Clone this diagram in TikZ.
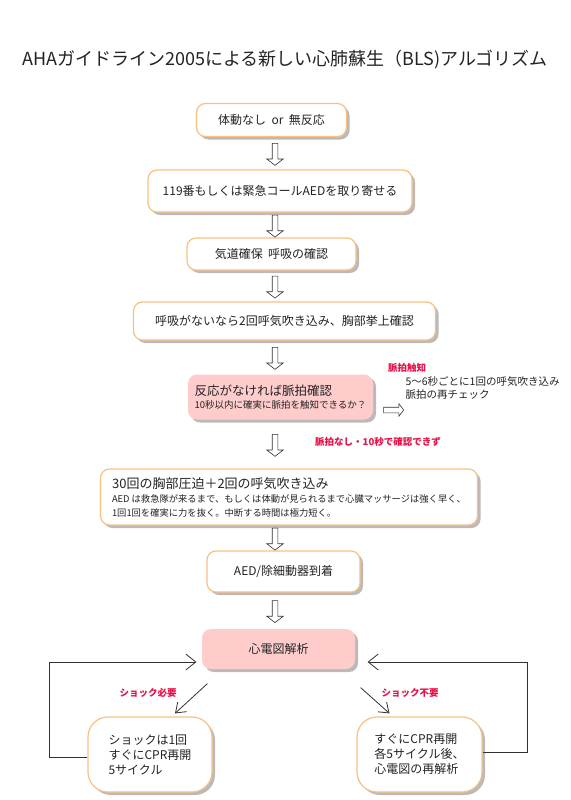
\documentclass[tikz,border=0pt]{standalone}
\usepackage{fontspec}
\setmainfont{Noto Sans CJK JP}
\usetikzlibrary{arrows.meta,calc,shapes.arrows,shadows}
\definecolor{bls}{RGB}{250,192,128}
\definecolor{blspink}{RGB}{255,204,204}
\definecolor{blsred}{RGB}{232,16,72}
\definecolor{blsline}{RGB}{50,50,50}
\definecolor{blstext}{RGB}{35,35,35}
\tikzset{box/.style={draw=bls,line width=1.2pt,fill=white,rounded corners=9pt,text=blstext,
    align=left,inner sep=3pt,font=\fontsize{12}{15}\selectfont,
    drop shadow={shadow xshift=3pt,shadow yshift=-3pt,opacity=0.45,fill=black!60}},
  pinkbox/.style={box,draw=none,fill=blspink},
  hollow/.style={single arrow,draw=blsline,fill=white,line width=0.6pt,inner xsep=0pt,inner ysep=2.5pt,
    minimum height=22pt,minimum width=16pt,single arrow head extend=5.5pt,single arrow tip angle=105},
  back/.style={-{Straight Barb[length=10pt,width=16pt]},line width=0.8pt,blsline},
  labeltext/.style={font=\bfseries\fontsize{9.5}{12}\selectfont,text=blsred},
  note/.style={font=\fontsize{10.5}{13.5}\selectfont,text=blstext,align=left}}

\begin{document}
\begin{tikzpicture}[x=1pt,y=-1pt]
\useasboundingbox (0,0) rectangle (570,800);
\node[font=\fontsize{18}{20}\selectfont,text=blstext] (title) at (285,60) {AHAガイドライン2005による新しい心肺蘇生（BLS)アルゴリズム};
% main flow
\node[box,minimum width=150,minimum height=33] (b1) at (271.5,120) {体動なし\ \ or\ \ 無反応};
\node[box,minimum width=264,minimum height=42] (b2) at (280,191) {119番もしくは緊急コールAEDを取り寄せる};
\node[box,minimum width=169,minimum height=32] (b3) at (271.5,254) {気道確保\ \ 呼吸の確認};
\node[box,minimum width=302,minimum height=38] (b4) at (284.5,321) {呼吸がないなら2回呼気吹き込み、胸部挙上確認};
\node[pinkbox,minimum width=185,minimum height=45] (b5) at (280.5,397)
  {{\fontsize{12.5}{15}\selectfont 反応がなければ脈拍確認}\\[-2pt]{\fontsize{9.5}{12}\selectfont 10秒以内に確実に脈拍を触知できるか？}};
\node[box,minimum width=377,minimum height=56] (b6) at (289,497)
  {{\fontsize{13}{15}\selectfont 30回の胸部圧迫＋2回の呼気吹き込み}\\[-1pt]
   {\fontsize{9.3}{12}\selectfont AED は救急隊が来るまで、もしくは体動が見られるまで心臓マッサージは強く早く、}\\[-1pt]
   {\fontsize{9.3}{12}\selectfont 1回1回を確実に力を抜く。中断する時間は極力短く。}};
\node[box,minimum width=153,minimum height=41] (b7) at (283.5,571.5) {AED/除細動器到着};
\node[pinkbox,minimum width=153,minimum height=40] (ecg) at (278.5,649) {心電図解析};
\node[box,rounded corners=20pt,minimum width=124,minimum height=75] (sl) at (150,754.5)
  {ショックは1回\\すぐにCPR再開\\5サイクル};
\node[box,rounded corners=20pt,minimum width=125,minimum height=75] (sr) at (419.5,754.5)
  {すぐにCPR再開\\各5サイクル後、\\心電図の再解析};
% hollow arrows
\foreach \a/\b in {b1/b2,b2/b3,b3/b4,b4/b5,b5/b6,b6/b7,b7/ecg}
  \path let \p1=($(\a.south)!0.5!(\b.north)$) in node[hollow,rotate=-90] (d\a) at (275pt,\y1) {};
% pulse branch
\path let \p1=(b5.east) in node[hollow,minimum height=20pt,minimum width=12pt,inner ysep=2.5pt,single arrow head extend=3.5pt] (ra) at ($(\x1,\y1)+(19pt,-13pt)$) {};
\node[labeltext] (pt) at (407,368) {脈拍触知};
\node[note,anchor=west] (pc) at (402,388) {5～6秒ごとに1回の呼気吹き込み\\脈拍の再チェック};
\node[labeltext] (np) at (378,442) {脈拍なし・10秒で確認できず};
% shock branches
\coordinate (lfrom) at ($(ecg.south west)+(6,14)$);
\coordinate (lto) at ($(sl.north)+(25,-3)$);
\coordinate (rfrom) at ($(ecg.south east)+(5,18)$);
\coordinate (rto) at ($(sr.north)+(-30,-3)$);
\draw[back,-{Straight Barb[length=9pt,width=13pt]}] (lfrom) -- (lto);
\draw[back,-{Straight Barb[length=9pt,width=13pt]}] (rfrom) -- (rto);
\node[labeltext] (sy) at (148,693) {ショック必要};
\node[labeltext] (sn) at (410,693) {ショック不要};
% loops back to analysis
\coordinate (lin) at ($(ecg.west)+(-5,13)$);
\coordinate (rin) at ($(ecg.east)+(12,13)$);
\draw[back] ($(sl.west)+(0,3)$) -- ++(-38,0) |- (lin);
\draw[back] ($(sr.east)+(0,-2)$) -- ++(45,0) |- (rin);
\end{tikzpicture}
\end{document}
